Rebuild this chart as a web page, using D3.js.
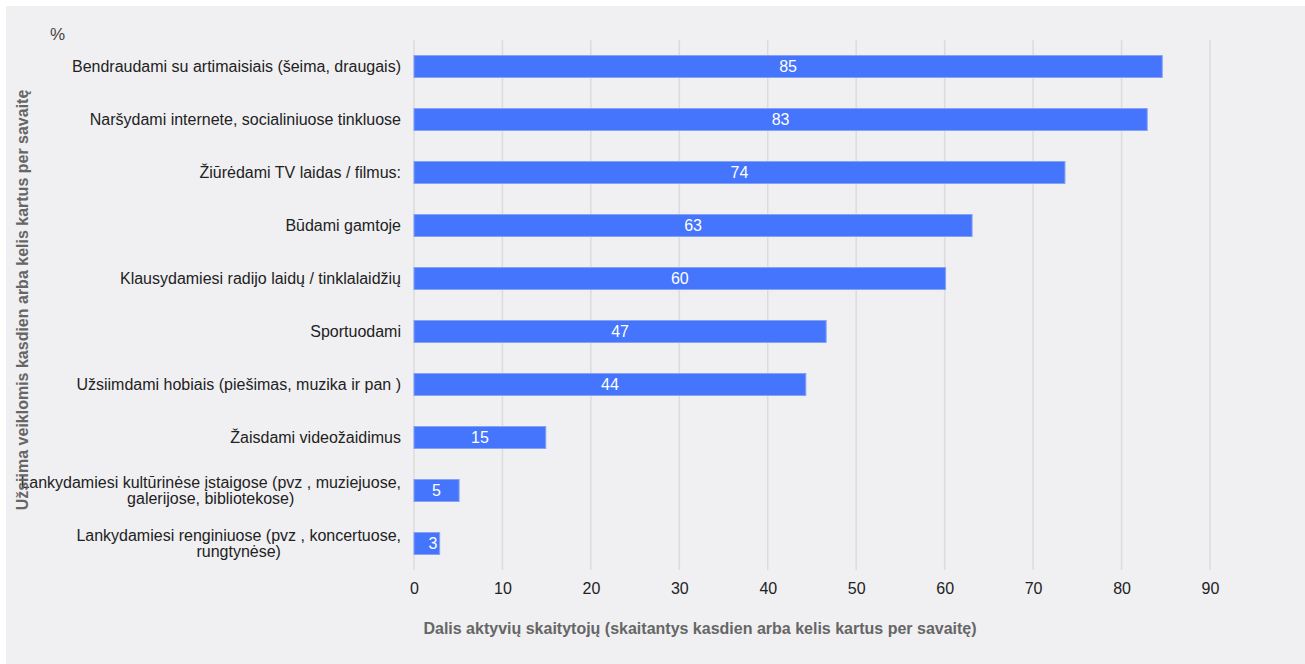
<!DOCTYPE html>
<html>
<head>
<meta charset="utf-8">
<script src="https://cdn.jsdelivr.net/npm/d3@7"></script>
<style>
html,body{margin:0;padding:0;background:#fff;}
svg{display:block;font-family:"Liberation Sans",Arial,sans-serif;}
</style>
</head>
<body>
<svg id="chart" width="1305" height="664"></svg>
<script>
const categories = [
  ["Bendraudami su artimaisiais (šeima, draugais)"],
  ["Naršydami internete, socialiniuose tinkluose"],
  ["Žiūrėdami TV laidas / filmus:"],
  ["Būdami gamtoje"],
  ["Klausydamiesi radijo laidų / tinklalaidžių"],
  ["Sportuodami"],
  ["Užsiimdami hobiais (piešimas, muzika ir pan )"],
  ["Žaisdami videožaidimus"],
  ["Lankydamiesi kultūrinėse įstaigose (pvz , muziejuose,", "galerijose, bibliotekose)"],
  ["Lankydamiesi renginiuose (pvz , koncertuose,", "rungtynėse)"]
];
const values = [84.6, 82.9, 73.6, 63.1, 60.1, 46.6, 44.3, 14.9, 5.1, 2.9];
const valueLabels = ["85", "83", "74", "63", "60", "47", "44", "15", "5", "3"];
const xTicks = [0, 10, 20, 30, 40, 50, 60, 70, 80, 90];
const yTitle = "Užsiima veiklomis kasdien arba kelis kartus per savaitę";
const xTitle = "Dalis aktyvių skaitytojų (skaitantys kasdien arba kelis kartus per savaitę)";
const unitLabel = "%";

(function () {
const svg = d3.select("#chart");
svg.append("rect").attr("x", 6).attr("y", 6).attr("width", 1299).attr("height", 658).attr("fill", "#f0f0f2");

const pLeft = 414, pRight = 1210, pTop = 40, pBottom = 570;
const fs = 16;
const x = d3.scaleLinear().domain([0, 90]).range([pLeft, pRight]);
const idx = d3.range(categories.length);
const y = d3.scaleBand().domain(idx).range([pTop, pBottom]).paddingInner(0.585).paddingOuter(0.2925);

// gridlines
svg.append("g").selectAll("line").data(xTicks).join("line")
  .attr("x1", d => x(d)).attr("x2", d => x(d))
  .attr("y1", pTop).attr("y2", pBottom)
  .attr("stroke", "#dcdcdc").attr("stroke-width", 1.5);

// x tick labels
const xAxis = svg.append("g").attr("transform", `translate(0,${pBottom})`)
  .call(d3.axisBottom(x).tickValues(xTicks).tickSize(0).tickPadding(13));
xAxis.select(".domain").remove();
xAxis.selectAll("text").attr("font-size", fs).attr("fill", "#222").attr("font-family", "Liberation Sans, Arial, sans-serif");

// bars
svg.append("g").selectAll("rect").data(idx).join("rect")
  .attr("x", x(0)).attr("y", d => y(d))
  .attr("width", d => x(values[d]) - x(0)).attr("height", y.bandwidth())
  .attr("fill", "#4574fd").attr("stroke", "#86a2f2").attr("stroke-width", 1);

// value labels
svg.append("g").selectAll("text").data(idx).join("text")
  .attr("x", d => Math.max((x(0) + x(values[d])) / 2, x(0) + 19))
  .attr("y", d => y(d) + y.bandwidth() / 2)
  .attr("dy", "0.35em").attr("text-anchor", "middle")
  .attr("font-size", fs).attr("fill", "#fff")
  .text(d => valueLabels[d]);

// category labels (multi-line blocks centred, right edge at 401)
const rightEdge = 401;
const cat = svg.append("g").selectAll("text").data(idx).join("text")
  .attr("font-size", fs).attr("fill", "#222");
cat.each(function(d) {
  const lines = categories[d];
  const t = d3.select(this);
  const lh = 16;
  const spans = lines.map((l, i) => t.append("tspan")
      .attr("y", y(d) + y.bandwidth() / 2 + (i - (lines.length - 1) / 2) * lh)
      .attr("dy", "0.35em").text(l));
  if (lines.length === 1) {
    t.attr("text-anchor", "end");
    spans.forEach(s => s.attr("x", rightEdge));
  } else {
    const w = d3.max(spans, s => s.node().getComputedTextLength());
    t.attr("text-anchor", "middle");
    spans.forEach(s => s.attr("x", rightEdge - w / 2));
  }
});

// unit label
svg.append("text").attr("x", 50).attr("y", 40).attr("font-size", 17).attr("fill", "#444").text(unitLabel);

// axis titles
svg.append("text").attr("x", 700).attr("y", 634).attr("text-anchor", "middle")
  .attr("font-size", fs).attr("font-weight", "bold").attr("fill", "#666").text(xTitle);
svg.append("text").attr("transform", `translate(28,${(pTop + pBottom) / 2 - 5}) rotate(-90)`)
  .attr("text-anchor", "middle").attr("font-size", fs).attr("font-weight", "bold").attr("fill", "#666").text(yTitle);
})();
</script>
</body>
</html>
